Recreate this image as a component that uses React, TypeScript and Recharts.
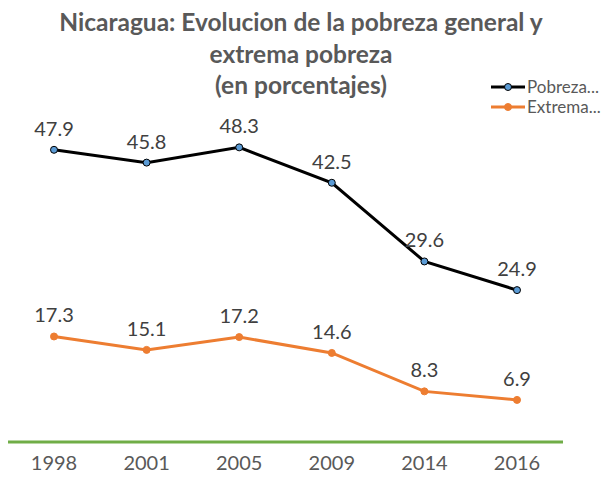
import React from "react";
import { LineChart, Line, XAxis, YAxis, LabelList } from "recharts";

const years = ["1998", "2001", "2005", "2009", "2014", "2016"];
const pobrezaGeneral = [47.9, 45.8, 48.3, 42.5, 29.6, 24.9];
const pobrezaExtrema = [17.3, 15.1, 17.2, 14.6, 8.3, 6.9];

const data = years.map((y, i) => ({
  year: y,
  general: pobrezaGeneral[i],
  extrema: pobrezaExtrema[i],
}));

const FONT = "Lato, 'Open Sans', sans-serif";

const legendItems = [
  { label: "Pobreza...", line: "#000000", fill: "#5b9bd5", stroke: "#000000" },
  { label: "Extrema...", line: "#ed7d31", fill: "#ed7d31", stroke: "#ed7d31" },
];

function LegendBox() {
  return (
    <div style={{ position: "absolute", left: 491, top: 77, fontFamily: FONT, fontSize: 17, lineHeight: "20px", color: "#595959", whiteSpace: "nowrap" }}>
      {legendItems.map((it) => (
        <div key={it.label} style={{ display: "flex", alignItems: "center", height: 20 }}>
          <svg width={34} height={12}>
            <line x1={0} y1={6} x2={34} y2={6} stroke={it.line} strokeWidth={3} />
            <circle cx={17} cy={6} r={3.5} fill={it.fill} stroke={it.stroke} strokeWidth={1} />
          </svg>
          <span style={{ marginLeft: 2, lineHeight: "20px" }}>{it.label}</span>
        </div>
      ))}
    </div>
  );
}

export default function App() {
  return (
    <div style={{ position: "absolute", left: 0, top: 0, width: 611, height: 482, background: "#fff", overflow: "hidden" }}>
      <LineChart width={611} height={482} data={data} margin={{ top: 76, right: 48, bottom: 0, left: 8 }}>
        <XAxis
          dataKey="year"
          axisLine={{ stroke: "#70ad47", strokeWidth: 3 }}
          tickLine={false}
          tickMargin={8}
          height={40}
          padding={{ left: 46, right: 46 }}
          tick={{ fill: "#595959", fontSize: 20, fontFamily: FONT }}
        />
        <YAxis hide domain={[0, 60]} />
        <Line
          type="linear"
          dataKey="general"
          stroke="#000000"
          strokeWidth={3}
          dot={{ r: 3.5, fill: "#5b9bd5", stroke: "#000000", strokeWidth: 1 }}
          isAnimationActive={false}
        >
          <LabelList dataKey="general" position="top" offset={14} fill="#404040" fontSize={20} fontFamily={FONT} />
        </Line>
        <Line
          type="linear"
          dataKey="extrema"
          stroke="#ed7d31"
          strokeWidth={3}
          dot={{ r: 3.5, fill: "#ed7d31", stroke: "#ed7d31", strokeWidth: 1 }}
          isAnimationActive={false}
        >
          <LabelList dataKey="extrema" position="top" offset={14} fill="#404040" fontSize={20} fontFamily={FONT} />
        </Line>
      </LineChart>
      <div
        style={{
          position: "absolute",
          left: 0,
          top: 6,
          width: 602,
          textAlign: "center",
          fontFamily: FONT,
          fontWeight: 700,
          fontSize: 24.5,
          lineHeight: "31.5px",
          color: "#595959",
        }}
      >
        Nicaragua: Evolucion de la pobreza general y
        <br />
        extrema pobreza
        <br />
        (en porcentajes)
      </div>
      <LegendBox />
    </div>
  );
}
